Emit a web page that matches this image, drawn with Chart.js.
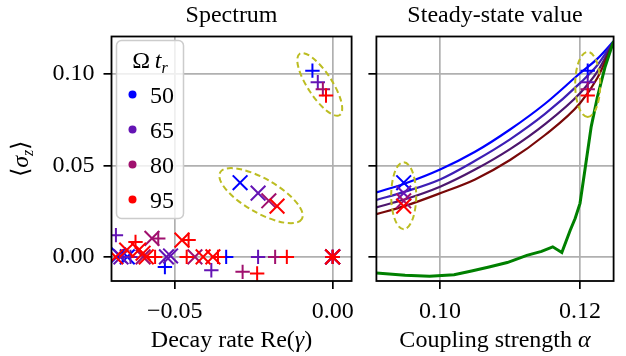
<!DOCTYPE html>
<html>
<head>
<meta charset="utf-8">
<script src="https://cdn.jsdelivr.net/npm/chart.js@4/dist/chart.umd.min.js"></script>
<style>
body { margin: 0; background: #fff; }
#left { position: absolute; left: 0; top: 0; width: 364px; height: 356px; }
#right { position: absolute; left: 364px; top: 0; width: 262px; height: 356px; }
</style>
</head>
<body>
<div id="left"><canvas id="specChart"></canvas></div>
<div id="right"><canvas id="steadyChart"></canvas></div>
<script>
// Legend values (Omega t_r) and tick labels
const omegaTr = ['50', '65', '80', '95'];
const yTicks = [0.00, 0.05, 0.10];
const specTicks = [-0.05, 0.00];
const alphaTicks = [0.10, 0.12];

// Spectrum: [Re(gamma), <sigma_z>] — "+" points, first entry is the circled one
const specPlus50 = [[-0.0064, 0.1019], [-0.0337, 0], [-0.0531, -0.0055], [-0.0665, 0], [0, 0]];
const specPlus65 = [[-0.0047, 0.0956], [-0.0236, 0], [-0.0384, -0.0073], [-0.0686, 0.0119], [-0.0640, 0], [0, 0]];
const specPlus80 = [[-0.0031, 0.0918], [-0.0182, 0], [-0.0285, -0.0082], [-0.0552, 0.0101], [0, 0]];
const specPlus95 = [[-0.0021, 0.0883], [-0.0145, 0], [-0.0239, -0.0091], [-0.0456, 0.0092], [-0.0462, 0],
                    [-0.0624, 0.0082], [-0.0562, 0], [-0.0363, 0], [0, 0]];
// "x" points, first entry is the circled one
const specCross50 = [[-0.0293, 0.0406], [-0.0650, 0], [-0.0677, 0.0010], [0, 0]];
const specCross65 = [[-0.0236, 0.0349], [-0.0526, 0], [-0.0513, 0.0005], [-0.0670, 0], [0, 0]];
const specCross80 = [[-0.0202, 0.0307], [-0.0572, 0.0101], [-0.0436, 0], [-0.0600, 0], [0, 0]];
const specCross95 = [[-0.0176, 0.0278], [-0.0477, 0.0092], [-0.0410, 0], [-0.0379, 0], [-0.0652, 0.0037],
                     [-0.0614, 0.0037], [-0.0687, 0], [-0.0590, 0], [-0.0600, 0.0020], [0, 0]];
const specPlus = [specPlus50, specPlus65, specPlus80, specPlus95];
const specCross = [specCross50, specCross65, specCross80, specCross95];

// Steady state vs coupling strength
const alphaGrid = [0.0909, 0.095, 0.100, 0.105, 0.110, 0.115, 0.120, 0.1225, 0.1248];
const steady50 = [0.0353, 0.0402, 0.0478, 0.0575, 0.0697, 0.0838, 0.1005, 0.1085, 0.1180];
const steady65 = [0.0311, 0.0357, 0.0424, 0.0526, 0.0643, 0.0782, 0.0951, 0.1050, 0.1180];
const steady80 = [0.0271, 0.0315, 0.0384, 0.0478, 0.0590, 0.0727, 0.0896, 0.1015, 0.1178];
const steady95 = [0.0234, 0.0279, 0.0348, 0.0424, 0.0530, 0.0667, 0.0841, 0.0980, 0.1175];
const alphaGreen = [0.0909, 0.095, 0.0985, 0.102, 0.1045, 0.107, 0.1096, 0.1124, 0.1145, 0.1161, 0.1174,
                    0.1186, 0.1193, 0.1200, 0.1207, 0.1216, 0.1225, 0.1236, 0.1248];
const steadyGreen = [-0.0088, -0.0100, -0.0106, -0.0098, -0.0077, -0.0055, -0.0031, 0.0008, 0.0030, 0.0055, 0.0024,
                     0.0146, 0.0210, 0.0293, 0.0475, 0.0713, 0.0877, 0.1042, 0.1180];
const alphaLow = 0.0948;
const alphaHigh = 0.1211;

const markerColors = ['#0000ff', '#6414b4', '#a0106e', '#ff0000'];
const lineColors = ['#0000ff', '#3d1fb5', '#4d176e', '#780808'];
const SERIF = "'Liberation Serif', 'Times New Roman', serif";
const FS = 24;
const Y_MIN = -0.0132, Y_MAX = 0.1206;

function drawRuns(ctx, parts, x, y, align) {
  let w = 0;
  parts.forEach(p => { ctx.font = (p[2] ? 'italic ' : '') + p[1] + 'px ' + SERIF; w += ctx.measureText(p[0]).width; });
  let cx = align === 'center' ? x - w / 2 : x;
  ctx.textAlign = 'left';
  ctx.textBaseline = 'alphabetic';
  parts.forEach(p => {
    ctx.font = (p[2] ? 'italic ' : '') + p[1] + 'px ' + SERIF;
    ctx.fillText(p[0], cx, y + (p[3] || 0));
    cx += ctx.measureText(p[0]).width;
  });
}

function drawEllipse(chart, pts, a, b, rotDeg) {
  const xs = chart.scales.x, ys = chart.scales.y;
  const mx = pts.reduce((s, p) => s + p[0], 0) / pts.length;
  const my = pts.reduce((s, p) => s + p[1], 0) / pts.length;
  const ctx = chart.ctx;
  ctx.save();
  ctx.strokeStyle = '#bcbd22';
  ctx.lineWidth = 2;
  ctx.setLineDash([6, 3.5]);
  ctx.beginPath();
  ctx.ellipse(xs.getPixelForValue(mx), ys.getPixelForValue(my), a, b, rotDeg * Math.PI / 180, 0, Math.PI * 2);
  ctx.stroke();
  ctx.restore();
}

const fmt = v => v.toFixed(2).replace('-', '\u2212');

function makeScale(min, max, ticks, showLabels, fitSize, horizontal) {
  return {
    type: 'linear', min, max,
    afterBuildTicks: s => { s.ticks = ticks.map(v => ({ value: v })); },
    afterFit: s => {
      if (horizontal) s.height = fitSize; else s.width = fitSize;
      s.paddingLeft = 0; s.paddingRight = 0; s.paddingTop = 0; s.paddingBottom = 0;
    },
    grid: { color: '#b0b0b0', lineWidth: 1.7, tickColor: '#000', tickLength: 8, tickWidth: 1.7 },
    border: { display: false },
    ticks: { display: showLabels, color: '#000', font: { family: SERIF, size: FS }, padding: horizontal ? 8 : 9,
             maxRotation: 0, autoSkip: false, callback: v => fmt(v) }
  };
}

function textPlugin(title, xlabel, ylabel) {
  return {
    id: 'texts',
    afterDraw(chart) {
      const {ctx, chartArea: a} = chart;
      ctx.save();
      ctx.strokeStyle = '#000';
      ctx.lineWidth = 1.8;
      ctx.strokeRect(a.left, a.top, a.right - a.left, a.bottom - a.top);
      ctx.fillStyle = '#000';
      const cx = (a.left + a.right) / 2;
      drawRuns(ctx, [[title, FS, false, 0]], cx, 22, 'center');
      drawRuns(ctx, xlabel, cx, 347, 'center');
      if (ylabel) {
        ctx.translate(28, (a.top + a.bottom) / 2);
        ctx.rotate(-Math.PI / 2);
        drawRuns(ctx, ylabel, 0, 0, 'center');
      }
      ctx.restore();
    }
  };
}

const legendPlugin = {
  id: 'omegaLegend',
  afterDatasetsDraw(chart) {
    const ctx = chart.ctx;
    const a = chart.chartArea;
    const x0 = a.left + 5, y0 = a.top + 4, w = 67, h = 178;
    ctx.save();
    ctx.beginPath();
    ctx.roundRect(x0, y0, w, h, 5);
    ctx.fillStyle = 'rgba(255,255,255,0.8)';
    ctx.fill();
    ctx.strokeStyle = '#cccccc';
    ctx.lineWidth = 1.5;
    ctx.stroke();
    ctx.fillStyle = '#000';
    drawRuns(ctx, [['Ω', FS, false, 0], ['\u2009', FS, false, 0], ['t', FS, true, 0], ['r', 16, true, 5]], x0 + w / 2, y0 + 27, 'center');
    omegaTr.forEach((lab, i) => {
      const by = y0 + 62 + i * 35;
      ctx.fillStyle = markerColors[i];
      ctx.beginPath();
      ctx.arc(x0 + 16, by - 8, 4, 0, Math.PI * 2);
      ctx.fill();
      ctx.fillStyle = '#000';
      drawRuns(ctx, [[lab, FS, false, 0]], x0 + 33.5, by, 'left');
    });
    ctx.restore();
  }
};

const specEllipses = {
  id: 'specEllipses',
  afterDatasetsDraw(chart) {
    drawEllipse(chart, specPlus.map(s => s[0]), 36.6, 12.2, 56.8);
    drawEllipse(chart, specCross.map(s => s[0]), 47, 17, 29.7);
  }
};

const steadyEllipses = {
  id: 'steadyEllipses',
  afterDatasetsDraw(chart) {
    drawEllipse(chart, specCross.map(s => [alphaLow, s[0][1]]), 33.5, 12.5, 90);
    drawEllipse(chart, specPlus.map(s => [alphaHigh, s[0][1]]), 32.5, 12.5, 90);
  }
};

function markerSet(points, i, style) {
  return {
    data: points.map(p => ({ x: p[0], y: p[1] })),
    pointStyle: style,
    pointRadius: style === 'cross' ? 7.2 : 10.4,
    borderColor: markerColors[i],
    pointBorderColor: markerColors[i],
    pointBorderWidth: 2,
    borderWidth: 2,
    order: 3 - i
  };
}

// Spectrum chart
const specSets = [];
omegaTr.forEach((_, i) => {
  specSets.push(markerSet(specPlus[i], i, 'cross'));
  specSets.push(markerSet(specCross[i], i, 'crossRot'));
});

new Chart(document.getElementById('specChart'), {
  type: 'scatter',
  data: { datasets: specSets },
  options: {
    responsive: true,
    maintainAspectRatio: false,
    animation: false,
    events: [],
    layout: { padding: { left: 0, top: 36.5, right: 7.5, bottom: 0 } },
    scales: {
      x: makeScale(-0.070, 0.006, specTicks, true, 75, true),
      y: makeScale(Y_MIN, Y_MAX, yTicks, true, 111.5, false)
    },
    plugins: { legend: { display: false }, tooltip: { enabled: false } }
  },
  plugins: [legendPlugin, specEllipses,
    textPlugin('Spectrum', [['Decay rate Re(', FS, false, 0], ['γ', FS, true, 0], [')', FS, false, 0]],
      [['\u27E8', FS, false, 0], ['σ', FS, true, 0], ['z', 16, true, 5], ['\u27E9', FS, false, 0]])]
});

// Steady-state chart
const steadyLines = [steady50, steady65, steady80, steady95];
const steadySets = steadyLines.map((vals, i) => ({
  data: alphaGrid.map((a, k) => ({ x: a, y: vals[k] })),
  showLine: true,
  borderColor: lineColors[i],
  borderWidth: 2.2,
  pointRadius: 0,
  cubicInterpolationMode: 'monotone',
  order: 20 - i
}));
steadySets.push({
  data: alphaGreen.map((a, k) => ({ x: a, y: steadyGreen[k] })),
  showLine: true,
  borderColor: '#008000',
  borderWidth: 3,
  pointRadius: 0,
  tension: 0,
  order: 10
});
omegaTr.forEach((_, i) => {
  steadySets.push(markerSet([[alphaHigh, specPlus[i][0][1]]], i, 'cross'));
  steadySets.push(markerSet([[alphaLow, specCross[i][0][1]]], i, 'crossRot'));
});

new Chart(document.getElementById('steadyChart'), {
  type: 'scatter',
  data: { datasets: steadySets },
  options: {
    responsive: true,
    maintainAspectRatio: false,
    animation: false,
    events: [],
    layout: { padding: { left: 0, top: 36.5, right: 9.5, bottom: 0 } },
    scales: {
      x: makeScale(0.0909, 0.1248, alphaTicks, true, 75, true),
      y: makeScale(Y_MIN, Y_MAX, yTicks, false, 7.5, false)
    },
    plugins: { legend: { display: false }, tooltip: { enabled: false } }
  },
  plugins: [steadyEllipses,
    textPlugin('Steady-state value', [['Coupling strength ', FS, false, 0], ['α', FS, true, 0]], null)]
});
</script>
</body>
</html>
